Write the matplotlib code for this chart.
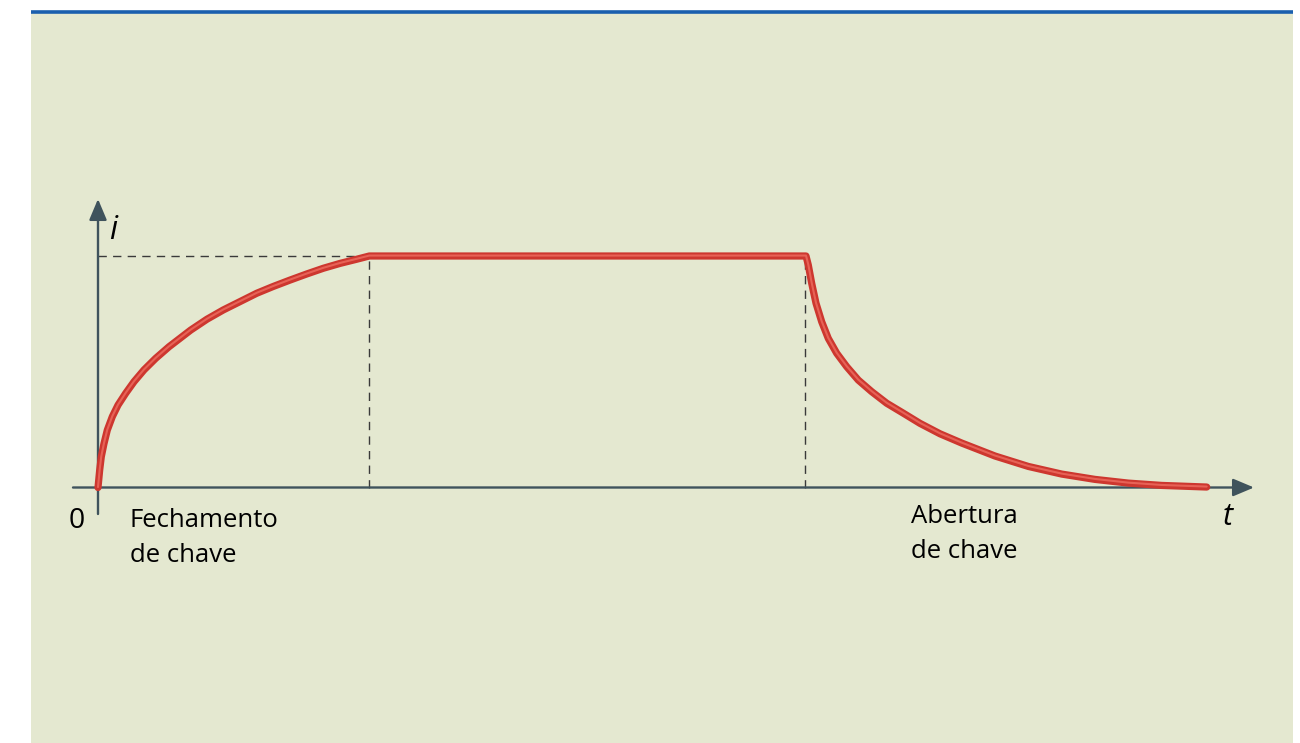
import matplotlib
matplotlib.use("Agg")
import matplotlib.pyplot as plt
from matplotlib.patches import Rectangle, FancyArrowPatch

# Current i(t) in an RL circuit: switch closed at t = 0, opened at t = T_OPEN
# Rise after closing the switch
t_rise = [0.0, 0.017, 0.033, 0.06, 0.093, 0.143, 0.20, 0.277, 0.36, 0.46, 0.577,
          0.71, 0.927, 1.09, 1.253, 1.42, 1.587, 1.75, 1.92, 2.085, 2.253, 2.42, 2.587, 2.713]
i_rise = [0.0, 0.076, 0.133, 0.190, 0.248, 0.306, 0.356, 0.407, 0.457, 0.508, 0.558,
          0.608, 0.680, 0.727, 0.767, 0.803, 0.839, 0.868, 0.896, 0.922, 0.947, 0.968, 0.986, 1.0]
# Steady current
t_flat = [2.713, 7.08]
i_flat = [1.0, 1.0]
# Decay after opening the switch
t_fall = [7.08, 7.103, 7.137, 7.18, 7.237, 7.303, 7.387, 7.487, 7.603, 7.737, 7.887, 8.053,
          8.22, 8.42, 8.637, 8.97, 9.303, 9.637, 9.97, 10.303, 10.637, 11.087]
i_fall = [1.0, 0.961, 0.882, 0.796, 0.716, 0.644, 0.580, 0.522, 0.464, 0.414, 0.364, 0.321,
          0.277, 0.232, 0.192, 0.136, 0.091, 0.058, 0.035, 0.019, 0.009, 0.002]

T_STEADY = 2.713
T_OPEN = 7.07
I_MAX = 1.0

BG = "#e4e8d0"
AXIS = "#3f535c"
RED_DARK = "#cd372f"
RED_LIGHT = "#ec6a5e"

fig = plt.figure(figsize=(13.0, 7.43), dpi=100)
fig.patch.set_facecolor("white")

# Full-figure axes; 1 time unit = 100 px, 1 current unit = 231.5 px
ax = fig.add_axes([0, 0, 1, 1])
x0, y0 = 98.0, 487.5
sx, sy = 100.0, 231.5
ax.set_xlim(-x0 / sx, (1300 - x0) / sx)
ax.set_ylim((y0 - 743) / sy, y0 / sy)
ax.axis("off")

def px(x, y):
    return (x - x0) / sx, (y0 - y) / sy

# Panel background and blue top rule
bx, by = px(31, 743)
bx2, by2 = px(1293, 12)
ax.add_patch(Rectangle((bx, by), bx2 - bx, by2 - by, facecolor=BG, edgecolor="none", zorder=0))
ax.plot([bx, bx2], [by2, by2], color="#1a5fae", lw=2.6, solid_capstyle="butt", zorder=1)

# Axes with arrows
xa0, _ = px(73, 0)
xa1, _ = px(1254, 0)
_, ya0 = px(0, 514)
_, ya1 = px(0, 199)
arrow = dict(arrowstyle="-|>,head_length=9.5,head_width=4", mutation_scale=1.35,
             color=AXIS, lw=1.7, shrinkA=0, shrinkB=0, zorder=3)
ax.add_patch(FancyArrowPatch((xa0, 0), (xa1, 0), **arrow))
ax.add_patch(FancyArrowPatch((0, ya0), (0, ya1), **arrow))

# Dashed guide lines
dash = dict(color="#3a3a3a", lw=1.0, dashes=(6, 4.5), zorder=2)
ax.plot([0, T_STEADY], [I_MAX, I_MAX], **dash)
ax.plot([T_STEADY, T_STEADY], [0, I_MAX], **dash)
ax.plot([T_OPEN, T_OPEN], [0, I_MAX], **dash)

# Current curve: red body with a lighter highlight
t_all = t_rise + t_flat[1:] + t_fall[1:]
i_all = i_rise + i_flat[1:] + i_fall[1:]
ax.plot(t_all, i_all, color=RED_DARK, lw=5.2, solid_capstyle="round", solid_joinstyle="round", zorder=4)
ax.plot(t_all, [v + 0.002 for v in i_all], color=RED_LIGHT, lw=1.5, solid_capstyle="round",
        solid_joinstyle="round", zorder=5, alpha=0.85)

# Labels
font = "Open Sans"
lab = dict(fontsize=18.5, family=font, ha="left", va="baseline")
ax.text(*px(113, 239), "i", fontsize=23, fontstyle="italic", family=font, ha="center", va="baseline")
ax.text(*px(1228, 525), "t", fontsize=22, fontstyle="italic", family=font, ha="center", va="baseline")
ax.text(*px(77, 528), "0", fontsize=20.5, family=font, ha="center", va="baseline")
ax.text(*px(130, 527), "Fechamento", **lab)
ax.text(*px(130, 561.5), "de chave", **lab)
ax.text(*px(911, 523), "Abertura", **lab)
ax.text(*px(911, 557.5), "de chave", **lab)

fig.savefig("out.png", dpi=100, facecolor=fig.get_facecolor())
